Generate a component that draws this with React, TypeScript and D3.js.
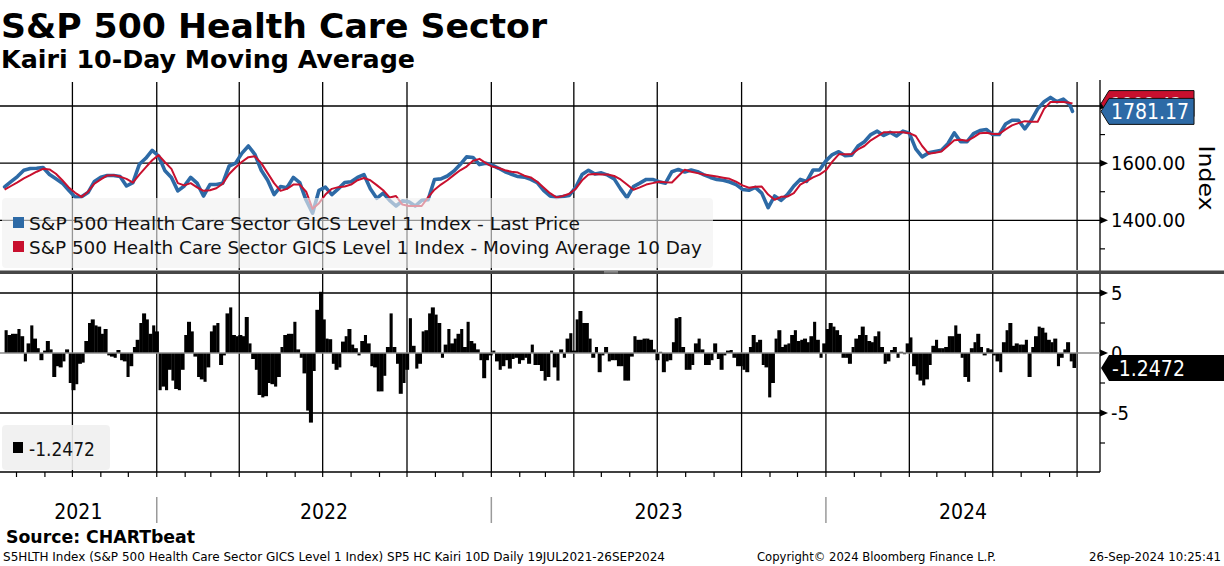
import React from 'react';
import * as d3 from 'd3';

// ---------- DATA ----------
const START = new Date(2021, 6, 19); // first weekly observation (Monday)
const LAST_DATE = new Date(2024, 8, 26);

// weekly (Mondays) S&P 500 Health Care index - last price
const priceWeekly = [
  1517, 1535, 1553, 1575, 1581, 1582, 1585, 1560, 1545, 1530,
  1505, 1481, 1482, 1497, 1536, 1551, 1557, 1557, 1553, 1520,
  1532, 1596, 1617, 1645, 1625, 1573, 1550, 1503, 1520, 1550,
  1530, 1485, 1525, 1525, 1530, 1590, 1600, 1635, 1660, 1631,
  1575, 1540, 1490, 1518, 1514, 1550, 1532, 1470, 1425, 1505,
  1516, 1490, 1510, 1532, 1535, 1550, 1560, 1510, 1477, 1495,
  1470, 1450, 1468, 1465, 1450, 1470, 1472, 1543, 1545, 1555,
  1572, 1595, 1622, 1620, 1595, 1600, 1593, 1582, 1570, 1561,
  1553, 1551, 1543, 1532, 1505, 1485, 1480, 1483, 1487, 1515,
  1560, 1575, 1562, 1566, 1558, 1545, 1510, 1479, 1518, 1530,
  1543, 1543, 1535, 1530, 1570, 1578, 1569, 1576, 1570, 1559,
  1550, 1543, 1540, 1534, 1525, 1508, 1505, 1515, 1495, 1444,
  1485, 1470, 1490, 1520, 1543, 1536, 1576, 1576, 1608, 1630,
  1640, 1626, 1628, 1660, 1675, 1700, 1712, 1697, 1708, 1695,
  1712, 1705, 1650, 1622, 1636, 1641, 1645, 1668, 1706, 1675,
  1675, 1703, 1714, 1718, 1700, 1700, 1737, 1750, 1750, 1720,
  1750, 1790, 1815, 1830, 1815, 1824, 1805,
];
const LAST_PRICE = 1781.17;

// weekly 10-day moving average
const maWeekly = [
  1507, 1520, 1533, 1547, 1558, 1570, 1580, 1578, 1563, 1540,
  1515, 1496, 1482, 1500, 1528, 1543, 1557, 1558, 1553, 1545,
  1532, 1560, 1585, 1610, 1628, 1603, 1580, 1530, 1522, 1530,
  1515, 1503, 1505, 1512, 1528, 1562, 1585, 1605, 1621, 1624,
  1600, 1565, 1530, 1503, 1510, 1525, 1525, 1500, 1440, 1460,
  1490, 1510, 1516, 1518, 1525, 1540, 1548, 1540, 1523, 1505,
  1480, 1485, 1455, 1450, 1450, 1450, 1480, 1507, 1525, 1540,
  1558, 1575, 1588, 1608, 1615, 1600, 1588, 1583, 1575, 1570,
  1567, 1556, 1550, 1535, 1515, 1495, 1480, 1485, 1493, 1510,
  1540, 1560, 1562, 1560, 1560, 1555, 1543, 1525, 1507, 1515,
  1525, 1530, 1535, 1533, 1532, 1555, 1577, 1570, 1565, 1560,
  1557, 1553, 1549, 1545, 1535, 1522, 1514, 1517, 1518, 1490,
  1472, 1482, 1483, 1495, 1525, 1537, 1550, 1560, 1575, 1605,
  1631, 1631, 1631, 1648, 1660, 1680, 1694, 1708, 1708, 1708,
  1708, 1705, 1695, 1660, 1633, 1636, 1641, 1660, 1680, 1682,
  1678, 1690, 1705, 1706, 1702, 1702, 1718, 1732, 1740, 1747,
  1745, 1745, 1790, 1814, 1814, 1814, 1811,
];
const LAST_MA = 1808.43;

// Kairi (%) sampled twice a week (Mon / Thu)
const kairi = [
  1.9, 1.5, 1.6, 1.6, 2.0, 1.4, -0.7, 0.8, 2.3, 1.2,
  0.4, -0.6, 0.2, 1.0, 0.3, -2.0, -1.1, -1.2, -0.7, 0.3,
  -2.5, -3.1, -2.6, -0.9, -0.8, 1.0, 2.5, 2.8, 2.3, 2.2,
  1.6, 2.0, -0.2, -0.3, -0.4, 0.25, -0.6, -0.7, -2.0, -1.1,
  0.5, 1.1, 2.5, 3.3, 2.8, 1.6, 2.3, 1.8, -3.1, -2.8,
  -3.1, -1.4, -2.3, -3.0, -3.1, -1.4, 1.5, 2.6, 1.8, -0.3,
  -2.0, -2.2, -2.4, -1.2, 1.8, 2.3, 2.5, -1.0, -0.2, 3.3,
  3.8, 1.5, 1.4, 1.5, 1.4, 3.0, 0.8, -0.5, -1.4, -3.5,
  -3.7, -3.6, -2.5, -2.6, -2.8, -2.0, 0.5, 1.5, 1.6, 1.6,
  2.6, 0.3, -0.4, -1.7, -4.8, -5.8, -1.5, 3.6, 5.1, 2.8,
  1.2, 1.15, -0.9, -1.4, -1.2, 0.95, 1.4, 2.0, 0.7, 0.4,
  -0.2, 1.0, 1.5, 0.8, -1.1, -1.2, -3.2, -3.2, -1.9, 0.5,
  3.3, 0.5, -0.9, -3.4, -2.5, -1.4, 2.9, 0.6, -1.3, -0.9,
  1.8, 1.9, 3.3, 3.8, 3.2, 2.5, -0.4, 0.7, 2.0, 0.8,
  1.2, 1.6, 2.0, 0.5, 2.6, 1.0, 0.8, 0.3, -0.6, -2.1,
  -0.6, -0.2, 0.2, -0.7, -1.4, -1.1, -0.6, -1.3, -0.5, -0.4,
  -0.9, -0.6, -0.4, -0.9, 0.7, -1.0, -1.0, -1.5, -2.3, -2.0,
  0.2, -1.2, -2.3, 0.3, -0.4, 1.2, 1.65, 0.2, 2.8, 3.5,
  2.5, 2.5, 1.2, -0.4, 0.5, -1.6, -0.2, 0.5, -0.7, -0.6,
  -0.6, -1.1, -1.1, -2.3, -2.3, -0.3, 1.4, 1.1, 1.1, 1.2,
  1.2, 1.1, 0.3, -0.6, 0.1, -1.6, -0.7, -0.6, 0.9, 2.9,
  3.0, 0.5, -1.4, -1.4, -1.0, 0.8, 1.2, 0.3, -1.0, -1.0,
  -0.6, 0.8, -0.5, -1.4, -0.2, 0.2, 0.25, -0.4, -1.1, -1.1,
  -1.4, -1.6, 0.5, 1.5, 0.9, 1.1, -1.0, -1.2, -3.7, -2.5,
  1.2, 1.9, 0.5, 0.7, 0.8, 1.5, 1.9, 1.0, 1.1, 1.2,
  0.9, 1.4, 2.6, 1.1, -0.4, 0.8, 2.0, 2.5, 2.2, 1.9,
  1.5, -0.4, -0.4, -0.9, 0.5, 1.2, 1.5, 2.2, 1.5, 1.0,
  0.9, 1.4, 1.8, 0.5, -0.9, -0.7, 0.25, 0.5, -0.4, 0.1,
  -0.1, 0.8, 1.3, -1.1, -1.8, -2.3, -2.7, -2.2, -1.0, 0.6,
  1.1, 0.4, 0.4, 0.5, 1.4, 1.4, 2.3, 1.6, -0.4, -2.0,
  -2.4, 0.4, 0.9, 1.6, 0.5, -0.2, 0.4, 0.3, -0.2, -0.7,
  -1.6, 0.9, 1.9, 2.5, 0.6, 0.8, 0.7, 0.7, 1.1, -2.0,
  0.5, 1.4, 2.2, 2.1, 1.7, 1.1, 0.9, 1.2, -1.1, -0.4,
  0.3, 0.9, -0.7, -1.2472,
];
const LAST_KAIRI = -1.2472;

const topTicks = [1400, 1600, 1800];
const topMinor = [1300, 1500, 1700];
const botTicks = [-5, 0, 5];
const botMinor = [-7.5, -2.5, 2.5];
const years = [2021, 2022, 2023, 2024];
const legendTop = [
  { label: 'S&P 500 Health Care Sector GICS Level 1 Index - Last Price', color: '#2d6aa6' },
  { label: 'S&P 500 Health Care Sector GICS Level 1 Index - Moving Average 10 Day', color: '#c8102e' },
];

const TITLE = 'S&P 500 Health Care Sector';
const SUBTITLE = 'Kairi 10-Day Moving Average';
const SOURCE = 'Source: CHARTbeat';
const FOOT_LEFT = 'S5HLTH Index (S&P 500 Health Care Sector GICS Level 1 Index) SP5 HC Kairi 10D  Daily 19JUL2021-26SEP2024';
const FOOT_MID = 'Copyright\u00A9 2024 Bloomberg Finance L.P.';
const FOOT_RIGHT = '26-Sep-2024 10:25:41';

// ---------- CHART ----------
const FONT = "'DejaVu Sans Condensed', 'DejaVu Sans', sans-serif";
const BLUE = '#2d6aa6';
const RED = '#c8102e';

export default function App() {
  const W = 1224, H = 566;
  const plotR = 1100;
  const topY1 = 270;
  const botY0 = 274, botY1 = 472;

  const x = d3.scaleTime()
    .domain([new Date(2021, 6, 14), new Date(2024, 9, 26)])
    .range([0, plotR]);
  const yTop = d3.scaleLinear().domain([1222.5, 1891]).range([271, 80]);
  const yBot = d3.scaleLinear().domain([-9.917, 6.5]).range([472, 275]);

  const priceSeries = priceWeekly.map((v, k) => ({ d: d3.timeDay.offset(START, 7 * k), v }));
  priceSeries.push({ d: LAST_DATE, v: LAST_PRICE });
  const maSeries = maWeekly.map((v, k) => ({ d: d3.timeDay.offset(START, 7 * k), v }));
  maSeries.push({ d: LAST_DATE, v: LAST_MA });

  const kDates = kairi.map((_, j) => d3.timeDay.offset(START, Math.floor(j / 2) * 7 + (j % 2) * 3));

  const line = d3.line<{ d: Date; v: number }>()
    .x((p) => x(p.d))
    .y((p) => yTop(p.v));

  const quarters = d3.timeMonth.every(3)!.range(new Date(2021, 7, 1), new Date(2024, 9, 2));
  const months = d3.timeMonth.range(new Date(2021, 7, 1), new Date(2024, 9, 2));
  const yearStarts = [new Date(2022, 0, 1), new Date(2023, 0, 1), new Date(2024, 0, 1)];
  const yearBounds = [0, ...yearStarts.map((d) => x(d)), plotR];

  const lastPriceY = yTop(LAST_PRICE);
  const lastMaY = yTop(LAST_MA);
  const lastKY = yBot(LAST_KAIRI);

  const arrowBox = (yc: number, right: number) => {
    const h = 13;
    return `${1101},${yc} ${1109},${yc - h} ${right},${yc - h} ${right},${yc + h} ${1109},${yc + h}`;
  };
  const tri = (y: number) => `${plotR},${y - 3.5} ${plotR + 8},${y} ${plotR},${y + 3.5}`;

  return (
    <svg
      width={W}
      height={H}
      viewBox={`0 0 ${W} ${H}`}
      style={{ position: 'absolute', left: 0, top: 0, background: '#fff', display: 'block' }}
      fontFamily={FONT}
    >
      <rect x={0} y={0} width={W} height={H} fill="#fff" />

      {/* titles */}
      <text x={1} y={38} fontSize={34} fontWeight="bold" textLength={546} lengthAdjust="spacingAndGlyphs">{TITLE}</text>
      <text x={1} y={68} fontSize={25} fontWeight="bold" textLength={414} lengthAdjust="spacingAndGlyphs">{SUBTITLE}</text>

      {/* ===== top panel ===== */}
      {topTicks.map((t) => (
        <line key={'th' + t} x1={0} x2={plotR} y1={yTop(t)} y2={yTop(t)} stroke="#000" strokeWidth={1.3} />
      ))}
      {quarters.map((q) => (
        <line key={'tv' + q.getTime()} x1={x(q)} x2={x(q)} y1={82} y2={topY1} stroke="#000" strokeWidth={1.3} />
      ))}
      <path d={line(priceSeries) || ''} fill="none" stroke={BLUE} strokeWidth={3.6} strokeLinejoin="round" strokeLinecap="round" />
      <path d={line(maSeries) || ''} fill="none" stroke={RED} strokeWidth={2} strokeLinejoin="round" />

      {/* top legend */}
      <rect x={2} y={198} width={711} height={70} rx={4} fill="#f0f0f0" fillOpacity={0.62} />
      {legendTop.map((l, i) => (
        <g key={'lg' + i}>
          <rect x={13} y={217 + i * 24} width={11} height={11} fill={l.color} />
          <text x={29} y={230 + i * 24} fontSize={18} fill="#111" textLength={i === 0 ? 551 : 673} lengthAdjust="spacingAndGlyphs">{l.label}</text>
        </g>
      ))}

      {/* top right axis */}
      <line x1={plotR} x2={plotR} y1={80} y2={botY1} stroke="#000" strokeWidth={1.3} />
      {topMinor.map((t) => (
        <line key={'tm' + t} x1={plotR} x2={plotR + 5} y1={yTop(t)} y2={yTop(t)} stroke="#000" strokeWidth={1.2} />
      ))}
      {topTicks.map((t) => (
        <g key={'tt' + t}>
          <polygon points={tri(yTop(t))} fill="#000" />
          <text x={1111} y={yTop(t) + 7} fontSize={20} fill="#000">{t.toFixed(2)}</text>
        </g>
      ))}
      <text transform="translate(1199,178) rotate(90)" textAnchor="middle" fontSize={22} fill="#000" textLength={65} lengthAdjust="spacingAndGlyphs">Index</text>

      {/* last value labels top (MA label sits behind the price label, as in the reference) */}
      <polygon points={arrowBox(lastMaY, 1194)} fill={RED} stroke="#111" strokeWidth={1} />
      <text x={1111} y={lastMaY + 7} fontSize={19} fill="#fff">{LAST_MA.toFixed(2)}</text>
      <polygon points={arrowBox(lastPriceY, 1194)} fill={BLUE} stroke="#111" strokeWidth={1} />
      <text x={1111} y={lastPriceY + 8} fontSize={21} fill="#fff">{LAST_PRICE.toFixed(2)}</text>

      {/* separator */}
      <rect x={0} y={270.5} width={W} height={3.5} fill="#474747" />
      <line x1={604} x2={618} y1={271.6} y2={271.6} stroke="#b0b0b0" strokeWidth={0.7} />
      <line x1={604} x2={618} y1={272.9} y2={272.9} stroke="#b0b0b0" strokeWidth={0.7} />

      {/* ===== bottom panel ===== */}
      {[5, -5].map((t) => (
        <line key={'bh' + t} x1={0} x2={plotR} y1={yBot(t)} y2={yBot(t)} stroke="#000" strokeWidth={1.3} />
      ))}
      {quarters.map((q) => (
        <line key={'bv' + q.getTime()} x1={x(q)} x2={x(q)} y1={botY0} y2={botY1} stroke="#000" strokeWidth={1.3} />
      ))}
      {kairi.map((v, j) => {
        const x0 = x(kDates[j]);
        const x1 = j < kairi.length - 1 ? x(kDates[j + 1]) : x0 + 3.2;
        const y0 = yBot(Math.max(0, v));
        const y1 = yBot(Math.min(0, v));
        return <rect key={'k' + j} x={x0} y={y0} width={Math.max(0.5, x1 - x0 + 0.35)} height={Math.max(0.5, y1 - y0)} fill="#000" />;
      })}
      <line x1={0} x2={plotR} y1={yBot(0)} y2={yBot(0)} stroke="#8a8a8a" strokeWidth={1.5} />

      {/* bottom legend */}
      <rect x={2} y={425} width={108} height={45} rx={4} fill="#f0f0f0" fillOpacity={0.9} />
      <rect x={13} y={442} width={10} height={11} fill="#000" />
      <text x={29} y={456} fontSize={19} fill="#111">{LAST_KAIRI.toFixed(4)}</text>

      {/* bottom right axis */}
      {botMinor.map((t) => (
        <line key={'bm' + t} x1={plotR} x2={plotR + 5} y1={yBot(t)} y2={yBot(t)} stroke="#000" strokeWidth={1.2} />
      ))}
      {botTicks.map((t) => (
        <g key={'bt' + t}>
          <polygon points={tri(yBot(t))} fill="#000" />
          <text x={1111} y={yBot(t) + 7} fontSize={20} fill="#000">{t === 0 ? '0' : t > 0 ? String(t) : '-' + Math.abs(t)}</text>
        </g>
      ))}
      <polygon points={arrowBox(lastKY, 1224)} fill="#000" />
      <text x={1112} y={lastKY + 8.5} fontSize={21} fill="#fff">{LAST_KAIRI.toFixed(4)}</text>

      {/* x axis */}
      <line x1={0} x2={plotR} y1={botY1} y2={botY1} stroke="#000" strokeWidth={1.3} />
      {months.map((m) => (
        <line key={'mt' + m.getTime()} x1={x(m)} x2={x(m)} y1={botY1} y2={botY1 + 5} stroke="#000" strokeWidth={1.2} />
      ))}
      {yearStarts.map((d) => (
        <line key={'ys' + d.getTime()} x1={x(d)} x2={x(d)} y1={497} y2={523} stroke="#9a9a9a" strokeWidth={1.5} />
      ))}
      {years.map((yr, i) => (
        <text key={'yr' + yr} x={(yearBounds[i] + yearBounds[i + 1]) / 2} y={519} fontSize={21} textAnchor="middle" fill="#000">{yr}</text>
      ))}

      {/* footer */}
      <text x={6} y={543} fontSize={18} fontWeight="bold" fill="#000" textLength={189} lengthAdjust="spacingAndGlyphs">{SOURCE}</text>
      <text x={3} y={561} fontSize={12.5} fill="#000" textLength={662} lengthAdjust="spacingAndGlyphs">{FOOT_LEFT}</text>
      <text x={757} y={561} fontSize={12.5} fill="#000" textLength={239} lengthAdjust="spacingAndGlyphs">{FOOT_MID}</text>
      <text x={1089} y={561} fontSize={12.5} fill="#000" textLength={132} lengthAdjust="spacingAndGlyphs">{FOOT_RIGHT}</text>
    </svg>
  );
}
